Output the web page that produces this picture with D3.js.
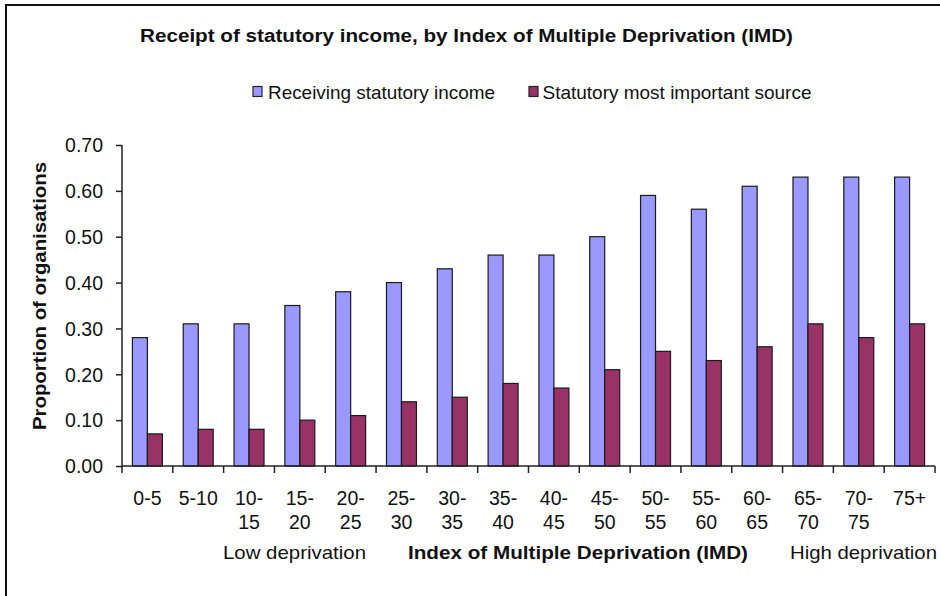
<!DOCTYPE html>
<html>
<head>
<meta charset="utf-8">
<script src="https://cdn.jsdelivr.net/npm/d3@7"></script>
<style>
  html, body { margin: 0; padding: 0; background: #fff; }
  svg { display: block; font-family: "Liberation Sans", Arial, sans-serif; }
</style>
</head>
<body>
<svg id="chart" width="940" height="596"></svg>
<script>
// ---- data ----
const categories = ["0-5", "5-10", "10-15", "15-20", "20-25", "25-30", "30-35", "35-40",
                    "40-45", "45-50", "50-55", "55-60", "60-65", "65-70", "70-75", "75+"];
const categoryLines = [["0-5"], ["5-10"], ["10-", "15"], ["15-", "20"], ["20-", "25"], ["25-", "30"],
                       ["30-", "35"], ["35-", "40"], ["40-", "45"], ["45-", "50"], ["50-", "55"],
                       ["55-", "60"], ["60-", "65"], ["65-", "70"], ["70-", "75"], ["75+"]];
const receivingStatutory = [0.28, 0.31, 0.31, 0.35, 0.38, 0.40, 0.43, 0.46,
                            0.46, 0.50, 0.59, 0.56, 0.61, 0.63, 0.63, 0.63];
const statutoryMostImportant = [0.07, 0.08, 0.08, 0.10, 0.11, 0.14, 0.15, 0.18,
                                0.17, 0.21, 0.25, 0.23, 0.26, 0.31, 0.28, 0.31];
const seriesNames = ["Receiving statutory income", "Statutory most important source"];
const seriesColors = ["#9999FF", "#993366"];
const yTicks = [0, 0.1, 0.2, 0.3, 0.4, 0.5, 0.6, 0.7];
const titleText = "Receipt of statutory income, by Index of Multiple Deprivation (IMD)";
const yTitle = "Proportion of organisations";
const xTitle = "Index of Multiple Deprivation (IMD)";
const lowLabel = "Low deprivation";
const highLabel = "High deprivation";

// ---- layout ----
const svg = d3.select("#chart");
const plotLeft = 122, plotRight = 935, plotTop = 145, plotBottom = 466;
const axisColor = "#222";

// frame
svg.append("rect").attr("x", 6).attr("y", 5).attr("width", 960).attr("height", 620)
  .attr("fill", "none").attr("stroke", "#111").attr("stroke-width", 2);

const x = d3.scaleBand().domain(categories).range([plotLeft, plotRight]).padding(0);
const y = d3.scaleLinear().domain([0, 0.7]).range([plotBottom, plotTop]);
const barW = x.bandwidth() * 0.295;
const x1 = d3.scaleBand().domain([0, 1]).range([0, barW * 2]).padding(0);
const groupOffset = (x.bandwidth() - barW * 2) / 2;

// bars
const seriesData = [receivingStatutory, statutoryMostImportant];
seriesData.forEach((vals, si) => {
  svg.append("g").selectAll("rect").data(vals).join("rect")
    .attr("x", (d, i) => x(categories[i]) + groupOffset + x1(si))
    .attr("y", d => y(d))
    .attr("width", x1.bandwidth())
    .attr("height", d => y(0) - y(d))
    .attr("fill", seriesColors[si])
    .attr("stroke", "#1a1a1a")
    .attr("stroke-width", 1.2);
});

// y axis
const yAxis = d3.axisLeft(y).tickValues(yTicks).tickFormat(d3.format(".2f")).tickSize(6).tickPadding(13);
const gy = svg.append("g").attr("transform", `translate(${plotLeft},0)`).call(yAxis);
gy.select(".domain").attr("stroke", axisColor).attr("stroke-width", 1.5).attr("d", `M0,${plotTop}V${plotBottom}`);
gy.selectAll(".tick line").attr("stroke", axisColor).attr("stroke-width", 1.5);
gy.selectAll(".tick text").attr("font-size", 19.5).attr("fill", "#111")
  .attr("font-family", "Liberation Sans, Arial, sans-serif").attr("dy", "0.35em");

// x axis: line + ticks at band boundaries
const gx = svg.append("g");
gx.append("line").attr("x1", plotLeft).attr("x2", plotRight).attr("y1", plotBottom).attr("y2", plotBottom)
  .attr("stroke", axisColor).attr("stroke-width", 1.5);
const boundaries = categories.map(c => x(c)).concat([plotRight]);
gx.selectAll("line.tk").data(boundaries).join("line").attr("class", "tk")
  .attr("x1", d => d).attr("x2", d => d).attr("y1", plotBottom).attr("y2", plotBottom + 7)
  .attr("stroke", axisColor).attr("stroke-width", 1.5);

// x labels
const lab = gx.selectAll("text.cat").data(categories).join("text").attr("class", "cat")
  .attr("text-anchor", "middle").attr("font-size", 19.5).attr("fill", "#111")
  .attr("transform", d => `translate(${x(d) + x.bandwidth() / 2},505)`);
lab.each(function(d, i) {
  const t = d3.select(this);
  categoryLines[i].forEach((ln, li) => {
    t.append("tspan").attr("x", 0).attr("y", li * 23.5).text(ln);
  });
});

// bottom labels
svg.append("text").attr("x", 223).attr("y", 559).attr("font-size", 18.5).attr("fill", "#111")
  .text(lowLabel).attr("textLength", 143).attr("lengthAdjust", "spacingAndGlyphs");
svg.append("text").attr("x", 408).attr("y", 559).attr("font-size", 18.5).attr("font-weight", "bold").attr("fill", "#111")
  .text(xTitle).attr("textLength", 340).attr("lengthAdjust", "spacingAndGlyphs");
svg.append("text").attr("x", 790).attr("y", 559).attr("font-size", 18.5).attr("fill", "#111")
  .text(highLabel).attr("textLength", 147).attr("lengthAdjust", "spacingAndGlyphs");

// y title
svg.append("text").attr("transform", "translate(46,296) rotate(-90)")
  .attr("text-anchor", "middle").attr("font-size", 18.5).attr("font-weight", "bold").attr("fill", "#111")
  .text(yTitle).attr("textLength", 268).attr("lengthAdjust", "spacingAndGlyphs");

// title
svg.append("text").attr("x", 140).attr("y", 42).attr("font-size", 18).attr("font-weight", "bold").attr("fill", "#111")
  .text(titleText).attr("textLength", 653).attr("lengthAdjust", "spacingAndGlyphs");

// legend
const legendItems = [
  {sx: 253, tx: 268, tw: 227},
  {sx: 529, tx: 542.5, tw: 269}
];
legendItems.forEach((li, i) => {
  svg.append("rect").attr("x", li.sx).attr("y", 86.5).attr("width", 9).attr("height", 10)
    .attr("fill", seriesColors[i]).attr("stroke", "#222").attr("stroke-width", 1.2);
  svg.append("text").attr("x", li.tx).attr("y", 98.5).attr("font-size", 18.5).attr("fill", "#111")
    .text(seriesNames[i]).attr("textLength", li.tw).attr("lengthAdjust", "spacingAndGlyphs");
});
</script>
</body>
</html>
